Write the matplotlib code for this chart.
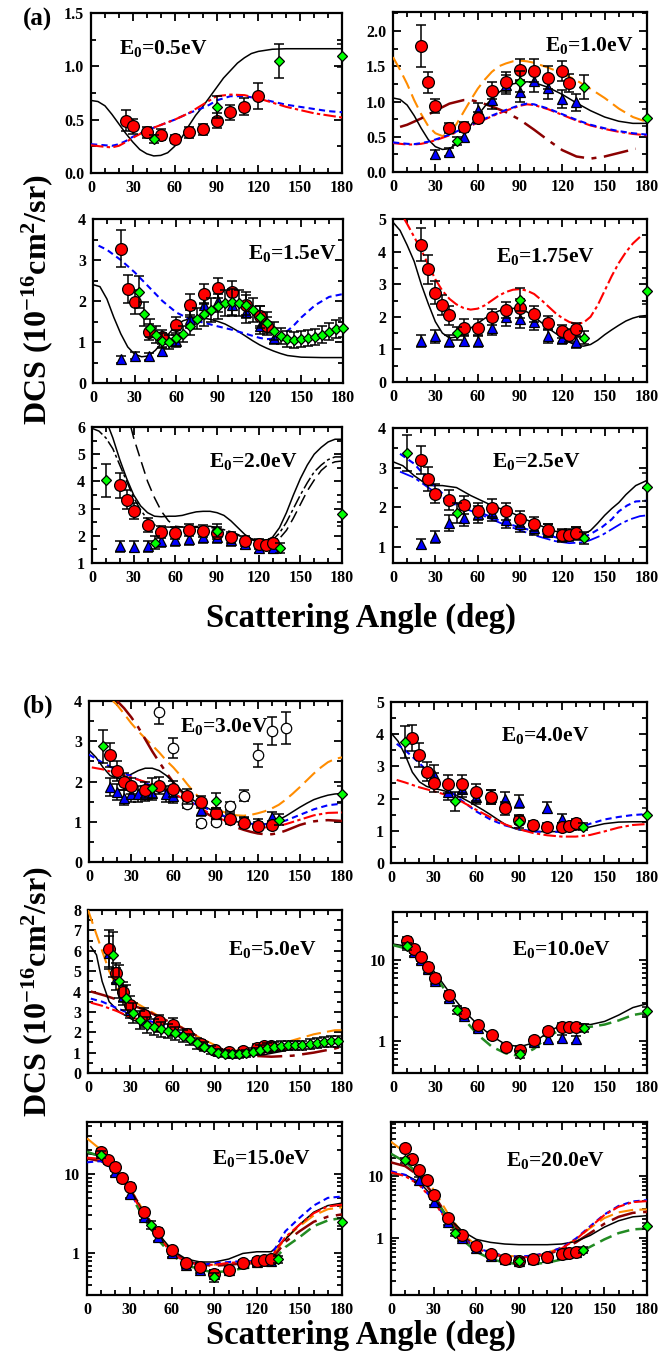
import numpy as np
import matplotlib
matplotlib.use("Agg")
import matplotlib.pyplot as plt
from matplotlib.ticker import MultipleLocator, LogLocator, NullFormatter, FixedLocator, FormatStrFormatter

plt.rcParams["font.family"] = ["Liberation Serif", "DejaVu Serif"]
plt.rcParams["font.weight"] = "bold"
plt.rcParams["mathtext.fontset"] = "custom"
plt.rcParams["mathtext.rm"] = "Liberation Serif:bold"
plt.rcParams["mathtext.it"] = "Liberation Serif:bold"
plt.rcParams["mathtext.bf"] = "Liberation Serif:bold"

W, H = 661, 1357

# ---------------------------------------------------------------- E0 = 0.5 eV
E05_RED_ANG = [25, 30, 40, 50, 60, 70, 80, 90, 100, 110, 120]
E05_RED_DCS = [0.49, 0.44, 0.38, 0.36, 0.32, 0.38, 0.41, 0.49, 0.57, 0.62, 0.72]
E05_RED_ERR = [0.10, 0.07, 0.05, 0.05, 0.04, 0.05, 0.05, 0.07, 0.07, 0.08, 0.12]
E05_GRN_ANG = [45, 90, 135, 180]
E05_GRN_DCS = [0.32, 0.62, 1.05, 1.10]
E05_GRN_ERR = [0.04, 0.10, 0.16, 0.11]
E05_BLK_ANG = [0, 5, 10, 15, 20, 25, 30, 35, 40, 45, 50, 55, 60, 65, 70, 75, 80, 85, 90, 95, 100, 105, 110, 115, 120, 130, 140, 180]
E05_BLK_DCS = [0.68, 0.67, 0.63, 0.55, 0.46, 0.37, 0.29, 0.22, 0.18, 0.16, 0.165, 0.19, 0.25, 0.33, 0.44, 0.54, 0.62, 0.71, 0.80, 0.89, 0.96, 1.03, 1.08, 1.12, 1.14, 1.16, 1.165, 1.165]
E05_BLU_ANG = [0, 10, 15, 20, 25, 30, 35, 40, 50, 60, 70, 80, 85, 90, 100, 110, 120, 130, 140, 150, 160, 170, 180]
E05_BLU_DCS = [0.27, 0.26, 0.255, 0.27, 0.30, 0.34, 0.37, 0.40, 0.45, 0.50, 0.56, 0.61, 0.64, 0.68, 0.72, 0.72, 0.70, 0.67, 0.64, 0.62, 0.60, 0.58, 0.57]
E05_RDD_ANG = [0, 10, 15, 20, 25, 30, 40, 50, 60, 70, 80, 85, 90, 100, 110, 120, 130, 140, 150, 160, 170, 180]
E05_RDD_DCS = [0.26, 0.245, 0.24, 0.255, 0.29, 0.33, 0.40, 0.45, 0.50, 0.56, 0.64, 0.68, 0.72, 0.735, 0.73, 0.70, 0.66, 0.62, 0.59, 0.56, 0.54, 0.52]

# ---------------------------------------------------------------- E0 = 1.0 eV
E10_RED_ANG = [20, 25, 30, 40, 50, 60, 70, 80, 90, 100, 110, 120, 125]
E10_RED_DCS = [1.79, 1.27, 0.94, 0.63, 0.64, 0.77, 1.15, 1.28, 1.45, 1.44, 1.34, 1.43, 1.26]
E10_RED_ERR = [0.30, 0.15, 0.10, 0.07, 0.07, 0.08, 0.12, 0.14, 0.15, 0.16, 0.16, 0.14, 0.13]
E10_BLU_ANG = [30, 40, 50, 60, 70, 80, 90, 100, 110, 120, 130]
E10_BLU_DCS = [0.25, 0.28, 0.50, 0.88, 1.02, 1.24, 1.14, 1.29, 1.19, 1.04, 0.99]
E10_BLU_ERR = [0.06, 0.06, 0.07, 0.10, 0.12, 0.14, 0.15, 0.15, 0.15, 0.13, 0.12]
E10_GRN_ANG = [45, 90, 135, 180]
E10_GRN_DCS = [0.44, 1.28, 1.20, 0.77]
E10_GRN_ERR = [0.05, 0.15, 0.17, 0.12]
E10_BLK_ANG = [0, 5, 10, 15, 20, 25, 30, 35, 40, 45, 50, 55, 60, 65, 70, 75, 80, 85, 90, 95, 100, 110, 120, 130, 140, 150, 160, 170, 180]
E10_BLK_DCS = [1.05, 1.03, 0.95, 0.80, 0.62, 0.46, 0.36, 0.32, 0.33, 0.40, 0.52, 0.66, 0.80, 0.93, 1.04, 1.13, 1.20, 1.25, 1.27, 1.28, 1.27, 1.20, 1.10, 0.98, 0.87, 0.78, 0.72, 0.69, 0.69]
E10_ORG_ANG = [0, 5, 10, 15, 20, 25, 30, 35, 40, 45, 50, 55, 60, 65, 70, 75, 80, 85, 90, 95, 100, 110, 120, 130, 140, 150, 160, 170, 180]
E10_ORG_DCS = [1.63, 1.45, 1.25, 1.02, 0.82, 0.65, 0.55, 0.51, 0.55, 0.68, 0.85, 1.02, 1.18, 1.31, 1.42, 1.50, 1.54, 1.57, 1.58, 1.57, 1.55, 1.48, 1.40, 1.30, 1.18, 1.05, 0.90, 0.78, 0.71]
E10_BLU_TH_ANG = [0, 10, 15, 20, 25, 30, 40, 50, 60, 70, 80, 90, 95, 100, 110, 120, 130, 140, 150, 160, 170, 180]
E10_BLU_TH_DCS = [0.42, 0.40, 0.395, 0.41, 0.43, 0.46, 0.53, 0.62, 0.71, 0.80, 0.88, 0.95, 0.97, 0.96, 0.90, 0.82, 0.74, 0.67, 0.62, 0.58, 0.55, 0.53]
E10_RDD_ANG = E10_BLU_TH_ANG
E10_RDD_DCS = [0.41, 0.39, 0.39, 0.40, 0.42, 0.45, 0.52, 0.61, 0.70, 0.79, 0.87, 0.94, 0.96, 0.95, 0.89, 0.81, 0.73, 0.66, 0.61, 0.57, 0.54, 0.52]
E10_MRN_ANG = [5, 10, 20, 30, 40, 50, 55, 60, 70, 80, 90, 100, 110, 120, 130, 140, 150, 160, 172]
E10_MRN_DCS = [0.64, 0.67, 0.76, 0.87, 0.97, 1.02, 1.02, 1.00, 0.93, 0.85, 0.74, 0.60, 0.45, 0.31, 0.22, 0.19, 0.22, 0.27, 0.33]

# ---------------------------------------------------------------- E0 = 1.5 eV
E15_RED_ANG = [20, 25, 30, 40, 50, 60, 70, 80, 90, 100, 110, 120, 125]
E15_RED_DCS = [3.28, 2.29, 1.98, 1.25, 1.12, 1.42, 1.91, 2.17, 2.32, 2.22, 1.90, 1.64, 1.40]
E15_RED_ERR = [0.45, 0.35, 0.30, 0.20, 0.18, 0.20, 0.25, 0.25, 0.25, 0.27, 0.25, 0.25, 0.22]
E15_BLU_ANG = [20, 30, 40, 50, 60, 70, 80, 90, 100, 110, 120, 130]
E15_BLU_DCS = [0.58, 0.67, 0.65, 0.77, 1.02, 1.55, 1.90, 2.01, 1.90, 1.72, 1.39, 1.10]
E15_BLU_ERR = [0.08, 0.09, 0.09, 0.11, 0.15, 0.22, 0.27, 0.28, 0.27, 0.25, 0.20, 0.16]
E15_GRN_ANG = [33, 37, 41, 45, 50, 55, 60, 65, 70, 75, 80, 85, 90, 95, 100, 105, 110, 115, 120, 125, 130, 135, 140, 145, 150, 155, 160, 165, 170, 175, 180]
E15_GRN_DCS = [2.22, 1.68, 1.33, 1.18, 1.03, 1.00, 1.10, 1.20, 1.39, 1.57, 1.68, 1.78, 1.87, 1.96, 1.98, 1.96, 1.90, 1.78, 1.62, 1.47, 1.26, 1.15, 1.07, 1.05, 1.07, 1.10, 1.12, 1.18, 1.25, 1.31, 1.35]
E15_GRN_ERR = [0.40, 0.30, 0.22, 0.20, 0.18, 0.17, 0.19, 0.20, 0.23, 0.26, 0.28, 0.29, 0.30, 0.32, 0.32, 0.32, 0.31, 0.29, 0.27, 0.25, 0.22, 0.20, 0.19, 0.19, 0.19, 0.19, 0.20, 0.21, 0.21, 0.22, 0.23]
E15_BLK_ANG = [0, 5, 10, 15, 20, 25, 30, 35, 40, 45, 50, 55, 60, 65, 70, 75, 80, 85, 90, 95, 100, 105, 110, 115, 120, 125, 130, 135, 140, 150, 165, 180]
E15_BLK_DCS = [2.40, 2.35, 2.05, 1.60, 1.20, 0.88, 0.70, 0.64, 0.66, 0.80, 1.00, 1.22, 1.42, 1.52, 1.57, 1.59, 1.58, 1.55, 1.50, 1.44, 1.35, 1.25, 1.14, 1.03, 0.93, 0.85, 0.78, 0.72, 0.67, 0.63, 0.62, 0.62]
E15_BLU_TH_ANG = [4, 10, 20, 30, 40, 50, 60, 70, 80, 90, 100, 110, 120, 125, 130, 135, 140, 145, 150, 160, 170, 180]
E15_BLU_TH_DCS = [3.35, 3.25, 3.00, 2.70, 2.35, 2.00, 1.72, 1.55, 1.47, 1.38, 1.30, 1.20, 1.10, 1.07, 1.08, 1.15, 1.27, 1.42, 1.60, 1.90, 2.10, 2.17]

# ---------------------------------------------------------------- E0 = 1.75 eV
E175_RED_ANG = [20, 25, 30, 35, 40, 50, 60, 70, 80, 90, 100, 110, 120, 125, 130]
E175_RED_DCS = [4.21, 3.46, 2.74, 2.36, 2.04, 1.67, 1.67, 2.00, 2.21, 2.26, 2.09, 1.82, 1.56, 1.44, 1.62]
E175_RED_ERR = [0.50, 0.45, 0.35, 0.30, 0.30, 0.25, 0.25, 0.25, 0.25, 0.30, 0.25, 0.20, 0.20, 0.20, 0.20]
E175_BLU_ANG = [20, 30, 40, 50, 60, 70, 80, 90, 100, 110, 120, 130]
E175_BLU_DCS = [1.25, 1.40, 1.25, 1.27, 1.25, 1.66, 1.99, 1.93, 1.83, 1.40, 1.35, 1.22]
E175_BLU_ERR = [0.18, 0.20, 0.18, 0.18, 0.18, 0.22, 0.27, 0.27, 0.25, 0.20, 0.19, 0.17]
E175_GRN_ANG = [45, 90, 135, 180]
E175_GRN_DCS = [1.49, 2.52, 1.36, 2.80]
E175_GRN_ERR = [0.20, 0.35, 0.20, 0.40]
E175_BLK_ANG = [0, 5, 10, 15, 20, 25, 30, 35, 40, 45, 50, 55, 60, 65, 70, 75, 80, 85, 90, 95, 100, 105, 110, 115, 120, 125, 130, 135, 140, 145, 150, 155, 160, 165, 170, 175, 180]
E175_BLK_DCS = [4.90, 4.65, 4.20, 3.70, 3.00, 2.40, 1.85, 1.50, 1.35, 1.38, 1.50, 1.65, 1.80, 1.95, 2.08, 2.18, 2.24, 2.26, 2.24, 2.15, 2.00, 1.83, 1.65, 1.50, 1.36, 1.22, 1.12, 1.10, 1.15, 1.28, 1.45, 1.60, 1.74, 1.87, 1.96, 2.02, 2.04]
E175_RDD_ANG = [8, 10, 15, 20, 25, 30, 35, 40, 45, 50, 55, 60, 65, 70, 75, 80, 85, 90, 95, 100, 105, 110, 115, 120, 125, 130, 135, 140, 145, 150, 155, 160, 165, 170, 175]
E175_RDD_DCS = [5.00, 4.85, 4.45, 4.05, 3.60, 3.15, 2.80, 2.55, 2.38, 2.27, 2.22, 2.25, 2.35, 2.50, 2.65, 2.76, 2.83, 2.85, 2.80, 2.70, 2.52, 2.32, 2.12, 1.96, 1.84, 1.78, 1.82, 2.00, 2.35, 2.80, 3.25, 3.65, 3.98, 4.25, 4.45]

# ---------------------------------------------------------------- E0 = 2.0 eV
E20_RED_ANG = [20, 25, 30, 40, 50, 60, 70, 80, 90, 100, 110, 120, 125, 130]
E20_RED_DCS = [3.85, 3.32, 2.92, 2.40, 2.14, 2.10, 2.23, 2.19, 2.10, 1.94, 1.80, 1.70, 1.68, 1.72]
E20_RED_ERR = [0.45, 0.35, 0.30, 0.25, 0.22, 0.22, 0.22, 0.22, 0.22, 0.20, 0.18, 0.17, 0.17, 0.17]
E20_BLU_ANG = [20, 30, 40, 50, 60, 70, 80, 90, 100, 110, 120, 130]
E20_BLU_DCS = [1.62, 1.60, 1.62, 1.80, 1.85, 1.90, 1.95, 1.95, 1.85, 1.70, 1.55, 1.55]
E20_BLU_ERR = [0.20, 0.20, 0.20, 0.22, 0.22, 0.23, 0.23, 0.23, 0.22, 0.20, 0.18, 0.18]
E20_GRN_ANG = [10, 45, 90, 135, 180]
E20_GRN_DCS = [4.04, 1.75, 2.19, 1.55, 2.80]
E20_GRN_ERR = [0.60, 0.25, 0.25, 0.20, 0.45]
E20_BLK_ANG = [12, 15, 20, 25, 30, 35, 40, 45, 50, 55, 60, 65, 70, 75, 80, 85, 90, 95, 100, 105, 110, 115, 120, 125, 130, 135, 140, 145, 150, 155, 160, 165, 170, 175, 180]
E20_BLK_DCS = [6.00, 5.60, 4.80, 4.10, 3.50, 3.10, 2.85, 2.72, 2.70, 2.72, 2.72, 2.75, 2.82, 2.88, 2.90, 2.90, 2.85, 2.75, 2.55, 2.30, 2.05, 1.88, 1.82, 1.82, 1.95, 2.30, 2.85, 3.50, 4.10, 4.60, 5.00, 5.25, 5.45, 5.55, 5.55]
E20_BDD_ANG = [0, 5, 10, 15, 20, 25, 30, 35, 40, 45, 50, 55, 60, 70, 80, 85, 90, 100, 110, 120, 125, 130, 135, 140, 145, 150, 155, 160, 165, 170, 175, 180]
E20_BDD_DCS = [5.95, 5.85, 5.60, 5.20, 4.60, 4.00, 3.40, 2.95, 2.60, 2.40, 2.33, 2.32, 2.32, 2.33, 2.35, 2.35, 2.30, 2.15, 1.95, 1.82, 1.80, 1.85, 2.10, 2.50, 3.00, 3.50, 3.95, 4.35, 4.60, 4.80, 4.90, 4.90]
E20_BLD_ANG = [28, 30, 35, 40, 45, 50, 55, 60, 70, 80, 90, 100, 110, 120, 125, 130, 135, 140, 145, 150, 155, 160, 165, 170, 175, 180]
E20_BLD_DCS = [6.00, 5.60, 4.80, 4.00, 3.40, 2.90, 2.55, 2.35, 2.30, 2.32, 2.28, 2.12, 1.92, 1.78, 1.74, 1.75, 1.90, 2.20, 2.65, 3.15, 3.65, 4.05, 4.40, 4.62, 4.72, 4.75]

# ---------------------------------------------------------------- E0 = 2.5 eV
E25_RED_ANG = [20, 25, 30, 40, 50, 60, 70, 80, 90, 100, 110, 120, 125, 130]
E25_RED_DCS = [3.19, 2.72, 2.35, 2.19, 2.06, 1.90, 1.98, 1.90, 1.70, 1.58, 1.42, 1.30, 1.30, 1.35]
E25_RED_ERR = [0.35, 0.30, 0.25, 0.25, 0.23, 0.22, 0.22, 0.22, 0.20, 0.18, 0.17, 0.15, 0.15, 0.15]
E25_BLU_ANG = [20, 30, 40, 50, 60, 70, 80, 90, 100, 110, 120, 130]
E25_BLU_DCS = [1.08, 1.26, 1.60, 1.74, 1.83, 1.87, 1.68, 1.57, 1.48, 1.42, 1.28, 1.35]
E25_BLU_ERR = [0.13, 0.15, 0.20, 0.20, 0.21, 0.22, 0.20, 0.19, 0.18, 0.17, 0.16, 0.16]
E25_GRN_ANG = [10, 45, 135, 180]
E25_GRN_DCS = [3.37, 1.87, 1.22, 2.51]
E25_GRN_ERR = [0.45, 0.25, 0.15, 0.35]
E25_BLK_ANG = [0, 7, 15, 25, 35, 45, 55, 70, 85, 100, 115, 125, 135, 140, 145, 150, 155, 160, 165, 172, 180]
E25_BLK_DCS = [3.15, 3.05, 2.80, 2.55, 2.55, 2.50, 2.30, 2.05, 1.85, 1.60, 1.40, 1.32, 1.32, 1.42, 1.60, 1.80, 1.97, 2.12, 2.32, 2.55, 2.68]
E25_BLU_TH_ANG = [5, 15, 25, 35, 45, 60, 80, 100, 115, 125, 135, 140, 148, 155, 160, 166, 172, 180]
E25_BLU_TH_DCS = [3.35, 3.10, 2.70, 2.35, 2.10, 1.90, 1.60, 1.40, 1.25, 1.20, 1.25, 1.33, 1.50, 1.70, 1.90, 2.05, 2.15, 2.17]
E25_BLD_ANG = [5, 15, 25, 35, 45, 60, 80, 100, 115, 125, 135, 140, 148, 155, 162, 168, 175, 180]
E25_BLD_DCS = [2.90, 2.75, 2.50, 2.25, 2.05, 1.85, 1.55, 1.30, 1.15, 1.10, 1.12, 1.18, 1.30, 1.45, 1.60, 1.70, 1.78, 1.80]

# ---------------------------------------------------------------- E0 = 3.0 eV
E30_RED_ANG = [15, 20, 25, 30, 40, 50, 60, 70, 80, 90, 100, 110, 120, 130]
E30_RED_DCS = [2.65, 2.27, 2.00, 1.88, 1.79, 1.90, 1.82, 1.63, 1.49, 1.21, 1.07, 0.98, 0.89, 0.92]
E30_RED_ERR = [0.30, 0.25, 0.22, 0.20, 0.20, 0.20, 0.20, 0.18, 0.16, 0.13, 0.12, 0.11, 0.10, 0.10]
E30_BLU_ANG = [15, 20, 25, 30, 35, 40, 45, 55, 60, 80, 90, 100, 110, 120, 130]
E30_BLU_DCS = [1.86, 1.73, 1.60, 1.69, 1.69, 1.70, 1.72, 1.69, 1.65, 1.29, 1.20, 1.11, 1.01, 0.97, 1.11]
E30_BLU_ERR = [0.22, 0.20, 0.18, 0.19, 0.19, 0.19, 0.19, 0.19, 0.18, 0.14, 0.13, 0.12, 0.11, 0.10, 0.12]
E30_GRN_ANG = [10, 45, 90, 135, 180]
E30_GRN_DCS = [2.87, 1.84, 1.51, 1.05, 1.68]
E30_GRN_ERR = [0.40, 0.25, 0.20, 0.14, 0.22]
E30_OPN_ANG = [50, 60, 70, 80, 90, 100, 110, 120, 130, 140]
E30_OPN_DCS = [3.72, 2.84, 1.43, 0.96, 1.00, 1.38, 1.65, 2.65, 3.25, 3.33]
E30_OPN_ERR = [0.30, 0.25, 0.10, 0.08, 0.08, 0.10, 0.14, 0.28, 0.35, 0.40]
E30_BLK_ANG = [0, 5, 10, 15, 20, 25, 30, 35, 40, 45, 50, 55, 60, 65, 70, 75, 80, 85, 90, 95, 100, 105, 110, 115, 120, 125, 130, 135, 140, 145, 150, 155, 160, 165, 170, 175, 180]
E30_BLK_DCS = [2.78, 2.60, 2.35, 2.15, 2.07, 2.10, 2.18, 2.27, 2.33, 2.33, 2.27, 2.15, 1.98, 1.80, 1.64, 1.52, 1.42, 1.33, 1.24, 1.15, 1.06, 1.00, 0.97, 0.95, 0.94, 0.94, 0.97, 1.05, 1.14, 1.25, 1.36, 1.46, 1.55, 1.61, 1.66, 1.69, 1.70]
E30_BLU_TH_ANG = [0, 10, 20, 30, 40, 50, 60, 70, 80, 90, 100, 110, 120, 130, 140, 150, 160, 170, 180]
E30_BLU_TH_DCS = [2.67, 2.46, 2.28, 2.13, 1.96, 1.82, 1.68, 1.52, 1.38, 1.24, 1.08, 0.98, 0.93, 0.94, 1.03, 1.17, 1.31, 1.41, 1.45]
E30_RDD_ANG = [2, 10, 20, 30, 40, 50, 60, 70, 80, 90, 100, 110, 120, 130, 140, 150, 160, 170, 180]
E30_RDD_DCS = [2.35, 2.30, 2.20, 2.10, 1.99, 1.87, 1.70, 1.52, 1.32, 1.13, 0.98, 0.90, 0.86, 0.86, 0.94, 1.05, 1.16, 1.22, 1.23]
E30_ORG_ANG = [17, 20, 25, 30, 35, 40, 45, 50, 55, 60, 65, 70, 75, 80, 85, 90, 95, 100, 105, 110, 115, 120, 125, 130, 135, 140, 145, 150, 155, 160, 165, 170, 175, 180]
E30_ORG_DCS = [4.00, 3.90, 3.68, 3.45, 3.25, 3.07, 2.90, 2.72, 2.52, 2.35, 2.15, 1.93, 1.72, 1.55, 1.42, 1.32, 1.25, 1.20, 1.16, 1.15, 1.17, 1.21, 1.26, 1.33, 1.42, 1.55, 1.70, 1.86, 2.03, 2.20, 2.35, 2.48, 2.56, 2.60]
E30_MRN_ANG = [20, 25, 30, 35, 40, 45, 50, 55, 60, 65, 70, 75, 80, 85, 90, 95, 100, 105, 110, 115, 120, 125, 130, 135, 140, 145, 150, 155, 160, 165, 170, 175, 180]
E30_MRN_DCS = [4.00, 3.82, 3.60, 3.35, 3.05, 2.75, 2.48, 2.22, 1.98, 1.78, 1.58, 1.42, 1.30, 1.18, 1.08, 1.00, 0.93, 0.86, 0.80, 0.75, 0.71, 0.69, 0.69, 0.72, 0.78, 0.85, 0.92, 0.97, 1.01, 1.03, 1.04, 1.03, 1.02]

# ---------------------------------------------------------------- E0 = 4.0 eV
E40_RED_ANG = [15, 20, 25, 30, 40, 50, 60, 70, 80, 90, 100, 110, 120, 125, 130]
E40_RED_DCS = [3.89, 3.36, 2.84, 2.50, 2.46, 2.45, 2.19, 2.04, 1.70, 1.35, 1.18, 1.13, 1.13, 1.16, 1.23]
E40_RED_ERR = [0.40, 0.38, 0.30, 0.28, 0.28, 0.28, 0.25, 0.22, 0.20, 0.15, 0.13, 0.12, 0.12, 0.12, 0.13]
E40_BLU_ANG = [30, 40, 50, 60, 70, 80, 90, 110, 120, 130]
E40_BLU_DCS = [2.74, 2.20, 2.30, 2.04, 2.06, 2.00, 1.90, 1.72, 1.38, 1.20]
E40_BLU_ERR = [0.30, 0.25, 0.25, 0.22, 0.22, 0.20, 0.20, 0.18, 0.15, 0.13]
E40_GRN_ANG = [10, 45, 90, 135, 180]
E40_GRN_DCS = [3.75, 1.91, 1.28, 1.13, 1.49]
E40_GRN_ERR = [0.50, 0.28, 0.18, 0.12, 0.22]
E40_BLK_ANG = [0, 5, 10, 15, 20, 25, 30, 35, 40, 45, 50, 55, 60, 65, 70, 75, 80, 85, 90, 100, 110, 120, 130, 140, 150, 160, 170, 180]
E40_BLK_DCS = [4.04, 3.78, 3.35, 2.82, 2.52, 2.38, 2.31, 2.27, 2.21, 2.12, 2.02, 1.90, 1.77, 1.64, 1.50, 1.35, 1.21, 1.10, 1.03, 0.98, 0.97, 0.98, 1.02, 1.12, 1.22, 1.27, 1.28, 1.28]
E40_BLU_TH_ANG = [4, 10, 20, 30, 40, 50, 60, 70, 80, 90, 100, 110, 120, 130, 140, 150, 160, 170, 180]
E40_BLU_TH_DCS = [3.70, 3.50, 3.10, 2.65, 2.28, 1.93, 1.60, 1.35, 1.17, 1.05, 0.98, 0.96, 0.97, 1.05, 1.22, 1.35, 1.43, 1.49, 1.52]
E40_RDD_ANG = [4, 10, 20, 30, 40, 50, 60, 70, 80, 90, 100, 110, 120, 130, 140, 150, 160, 170, 180]
E40_RDD_DCS = [2.58, 2.50, 2.35, 2.23, 2.10, 1.90, 1.65, 1.42, 1.20, 1.05, 0.93, 0.86, 0.82, 0.82, 0.87, 0.98, 1.10, 1.18, 1.21]

# ---------------------------------------------------------------- E0 = 5.0 eV
E50_RED_ANG = [15, 20, 25, 30, 40, 50, 60, 70, 80, 90, 100, 110, 120, 125, 130]
E50_RED_DCS = [6.11, 4.92, 3.97, 3.36, 2.84, 2.54, 2.38, 1.90, 1.44, 1.11, 1.03, 1.08, 1.25, 1.31, 1.33]
E50_RED_ERR = [0.90, 0.50, 0.50, 0.40, 0.35, 0.30, 0.30, 0.25, 0.20, 0.15, 0.15, 0.15, 0.15, 0.15, 0.15]
E50_BLU_ANG = [15, 20, 25, 30, 40, 50, 60]
E50_BLU_DCS = [5.90, 4.60, 3.80, 3.10, 2.60, 2.30, 2.10]
E50_BLU_ERR = [0.80, 0.55, 0.45, 0.40, 0.35, 0.30, 0.30]
E50_GRN_ANG = [18, 22, 27, 32, 37, 42, 47, 52, 57, 62, 67, 72, 77, 82, 87, 92, 97, 102, 107, 112, 117, 122, 127, 132, 137, 142, 147, 152, 157, 162, 167, 172, 177]
E50_GRN_DCS = [5.80, 4.50, 3.70, 2.95, 2.60, 2.35, 2.25, 2.15, 2.05, 1.95, 1.80, 1.65, 1.45, 1.30, 1.12, 1.00, 0.95, 0.92, 0.93, 0.96, 1.05, 1.15, 1.25, 1.30, 1.33, 1.36, 1.36, 1.35, 1.42, 1.48, 1.52, 1.55, 1.55]
E50_GRN_ERR = [1.10, 0.80, 0.60, 0.50, 0.45, 0.40, 0.38, 0.36, 0.34, 0.32, 0.30, 0.28, 0.25, 0.22, 0.20, 0.18, 0.17, 0.17, 0.17, 0.17, 0.18, 0.20, 0.22, 0.22, 0.23, 0.23, 0.23, 0.23, 0.24, 0.25, 0.25, 0.26, 0.26]
E50_ORG_ANG = [0, 5, 10, 15, 22, 35, 50, 65, 80, 92, 105, 115, 130, 145, 160, 175, 180]
E50_ORG_DCS = [8.00, 7.00, 6.00, 5.00, 4.00, 3.40, 2.80, 2.30, 1.70, 1.30, 1.10, 1.10, 1.30, 1.60, 1.90, 2.10, 2.10]
E50_BLK_ANG = [2, 6, 10, 15, 22, 32, 45, 60, 75, 90, 100, 110, 125, 140, 155, 170, 180]
E50_BLK_DCS = [6.20, 5.80, 4.50, 3.50, 3.00, 2.60, 2.30, 2.00, 1.60, 1.20, 0.95, 0.85, 0.90, 1.10, 1.35, 1.50, 1.55]
E50_MRN_ANG = [2, 12, 25, 40, 55, 70, 85, 100, 115, 130, 145, 160, 175, 180]
E50_MRN_DCS = [4.00, 3.80, 3.50, 3.10, 2.60, 2.10, 1.50, 1.00, 0.85, 0.80, 0.85, 1.00, 1.20, 1.30]
E50_BLU_TH_ANG = [2, 10, 20, 30, 42, 57, 72, 87, 100, 115, 130, 148, 165, 180]
E50_BLU_TH_DCS = [3.65, 3.50, 3.20, 2.90, 2.60, 2.20, 1.80, 1.30, 1.00, 0.95, 1.05, 1.30, 1.50, 1.60]
E50_RDD_ANG = [2, 10, 20, 30, 42, 57, 72, 87, 100, 115, 130, 148, 165, 180]
E50_RDD_DCS = [3.45, 3.30, 3.05, 2.75, 2.50, 2.10, 1.70, 1.25, 1.00, 0.95, 1.05, 1.30, 1.45, 1.55]

# ---------------------------------------------------------------- E0 = 10.0 eV
E100_RED_ANG = [10, 15, 20, 25, 30, 40, 50, 60, 70, 80, 90, 100, 110, 120, 125, 130]
E100_RED_DCS = [17.7, 13.9, 11.0, 8.4, 6.1, 3.77, 2.24, 1.57, 1.18, 0.84, 0.78, 1.03, 1.33, 1.50, 1.50, 1.50]
E100_RED_ERR = [1.8, 1.4, 1.1, 0.8, 0.6, 0.38, 0.22, 0.16, 0.12, 0.08, 0.08, 0.10, 0.13, 0.15, 0.15, 0.15]
E100_BLU_ANG = [10, 15, 20, 25, 30, 40, 50, 60, 100, 110, 120, 130]
E100_BLU_DCS = [16.5, 12.8, 10.0, 7.8, 5.6, 3.4, 2.05, 1.45, 0.97, 1.05, 1.08, 1.05]
E100_BLU_ERR = [1.6, 1.3, 1.0, 0.8, 0.56, 0.34, 0.2, 0.15, 0.1, 0.1, 0.1, 0.1]
E100_GRN_ANG = [10, 45, 90, 135, 180]
E100_GRN_DCS = [15.0, 2.44, 0.69, 1.46, 2.38]
E100_GRN_ERR = [1.5, 0.25, 0.07, 0.15, 0.25]
E100_BLK_ANG = [0, 10, 20, 30, 40, 50, 60, 70, 80, 90, 100, 110, 120, 130, 140, 150, 160, 170, 180]
E100_BLK_DCS = [16.0, 15.0, 11.0, 7.0, 4.0, 2.4, 1.6, 1.15, 0.90, 0.85, 0.95, 1.30, 1.60, 1.65, 1.60, 1.75, 2.10, 2.60, 2.90]
E100_GTH_ANG = [0, 10, 20, 30, 40, 50, 60, 70, 80, 90, 100, 110, 120, 130, 140, 150, 160, 170, 180]
E100_GTH_DCS = [15.5, 14.0, 10.0, 6.5, 3.5, 1.9, 1.2, 0.85, 0.70, 0.65, 0.80, 1.15, 1.40, 1.45, 1.50, 1.60, 1.80, 2.10, 2.25]

# ---------------------------------------------------------------- E0 = 15.0 eV
E150_RED_ANG = [10, 15, 20, 25, 30, 40, 50, 60, 70, 80, 90, 100, 110, 120, 125, 130]
E150_RED_DCS = [18.7, 15.0, 12.1, 8.8, 6.9, 3.3, 1.88, 1.10, 0.75, 0.68, 0.55, 0.62, 0.75, 0.80, 0.82, 0.85]
E150_RED_ERR = [1.9, 1.5, 1.2, 0.9, 0.7, 0.33, 0.19, 0.11, 0.08, 0.07, 0.06, 0.06, 0.08, 0.08, 0.08, 0.09]
E150_BLU_ANG = [20, 30, 40, 50, 60, 70, 80, 90, 100, 110, 120, 130]
E150_BLU_DCS = [10.5, 5.6, 2.9, 1.6, 1.0, 0.72, 0.62, 0.55, 0.62, 0.75, 0.78, 0.80]
E150_BLU_ERR = [1.0, 0.6, 0.3, 0.16, 0.1, 0.07, 0.06, 0.06, 0.06, 0.08, 0.08, 0.08]
E150_GRN_ANG = [10, 45, 90, 135, 180]
E150_GRN_DCS = [17.5, 2.3, 0.50, 0.85, 2.50]
E150_GRN_ERR = [1.8, 0.25, 0.06, 0.09, 0.3]
E150_ANG = [0, 10, 20, 30, 40, 50, 60, 70, 80, 90, 100, 110, 120, 130, 140, 150, 160, 170, 180]
E150_BLK_DCS = [18.0, 17.0, 11.5, 6.5, 3.3, 1.8, 1.1, 0.85, 0.78, 0.78, 0.85, 1.0, 1.05, 1.05, 1.5, 2.3, 3.3, 4.0, 4.3]
E150_BLU_TH_DCS = [14.0, 14.5, 11.0, 6.0, 3.0, 1.6, 1.0, 0.78, 0.72, 0.75, 0.78, 0.80, 0.80, 0.95, 1.9, 2.8, 4.0, 5.0, 5.2]
E150_RDD_DCS = [16.0, 15.5, 11.2, 6.2, 3.1, 1.65, 1.0, 0.78, 0.72, 0.72, 0.76, 0.78, 0.78, 0.90, 1.6, 2.3, 3.2, 3.9, 4.1]
E150_ORG_DCS = [28.0, 20.0, 12.5, 6.8, 3.4, 1.75, 1.05, 0.80, 0.72, 0.72, 0.75, 0.78, 0.78, 0.88, 1.55, 2.2, 3.0, 3.6, 3.8]
E150_MRN_DCS = [15.6, 14.5, 11.5, 6.5, 3.4, 1.8, 1.05, 0.8, 0.72, 0.70, 0.72, 0.75, 0.75, 0.82, 1.4, 1.9, 2.5, 2.9, 3.1]
E150_GTH_DCS = [19.0, 16.5, 11.0, 5.8, 2.8, 1.5, 0.95, 0.72, 0.62, 0.58, 0.60, 0.65, 0.68, 0.75, 1.2, 1.6, 2.2, 2.6, 2.8]

# ---------------------------------------------------------------- E0 = 20.0 eV
E200_RED_ANG = [10, 15, 20, 25, 30, 40, 50, 60, 70, 80, 90, 100, 110, 120, 125, 130]
E200_RED_DCS = [28.0, 19.0, 12.5, 8.6, 5.0, 2.1, 1.1, 0.75, 0.55, 0.45, 0.42, 0.45, 0.50, 0.55, 0.58, 0.60]
E200_RED_ERR = [2.8, 1.9, 1.3, 0.9, 0.5, 0.21, 0.11, 0.08, 0.06, 0.05, 0.04, 0.05, 0.05, 0.06, 0.06, 0.06]
E200_BLU_ANG = [20, 30, 40, 50, 60, 70, 80, 90, 100, 110, 120, 130]
E200_BLU_DCS = [8.8, 3.8, 1.8, 1.0, 0.70, 0.52, 0.45, 0.42, 0.45, 0.50, 0.55, 0.60]
E200_BLU_ERR = [0.9, 0.4, 0.18, 0.1, 0.07, 0.05, 0.05, 0.04, 0.05, 0.05, 0.06, 0.06]
E200_GRN_ANG = [10, 45, 90, 135, 180]
E200_GRN_DCS = [18.0, 1.2, 0.42, 0.65, 1.58]
E200_GRN_ERR = [1.8, 0.13, 0.05, 0.07, 0.2]
E200_ANG = [0, 10, 20, 30, 40, 50, 60, 70, 80, 90, 100, 110, 120, 130, 140, 150, 160, 170, 180]
E200_BLK_DCS = [11.0, 10.5, 8.0, 4.5, 2.2, 1.3, 0.95, 0.85, 0.80, 0.78, 0.78, 0.78, 0.80, 0.88, 1.10, 1.50, 1.90, 2.20, 2.30]
E200_BLU_TH_DCS = [12.0, 10.5, 7.5, 4.0, 1.9, 1.0, 0.70, 0.58, 0.52, 0.50, 0.52, 0.58, 0.70, 0.98, 1.55, 2.40, 3.30, 3.90, 4.10]
E200_RDD_DCS = [11.5, 10.0, 7.2, 3.9, 1.8, 0.95, 0.68, 0.56, 0.50, 0.48, 0.50, 0.56, 0.68, 0.95, 1.50, 2.35, 3.20, 3.80, 3.95]
E200_ORG_DCS = [36.0, 24.0, 13.0, 6.0, 2.5, 1.2, 0.75, 0.58, 0.52, 0.50, 0.52, 0.58, 0.70, 0.95, 1.45, 2.10, 2.60, 2.85, 2.90]
E200_MRN_DCS = [16.7, 14.5, 10.0, 5.0, 2.2, 1.1, 0.72, 0.56, 0.50, 0.48, 0.50, 0.55, 0.65, 0.85, 1.20, 1.70, 2.20, 2.55, 2.65]
E200_GTH_DCS = [23.0, 17.0, 10.5, 5.0, 2.0, 0.95, 0.60, 0.46, 0.40, 0.38, 0.38, 0.40, 0.45, 0.55, 0.72, 0.95, 1.20, 1.38, 1.42]

# ---------------------------------------------------------------- drawing
LINE_STYLES = {
    "black": dict(color="black", lw=1.1, ls="-"),
    "blue": dict(color="#0000ff", lw=1.5, dashes=(3, 2)),
    "red": dict(color="#ff0000", lw=1.5, dashes=(6, 1.6, 1.6, 1.6)),
    "orange": dict(color="#ff8c00", lw=1.5, dashes=(7, 3)),
    "maroon": dict(color="#8b0000", lw=1.8, dashes=(10, 3, 2, 3)),
    "green": dict(color="#228b22", lw=1.8, dashes=(5, 2.5)),
    "bluedd": dict(color="#0000ff", lw=1.3, dashes=(8, 2, 2, 2)),
    "blackdd": dict(color="black", lw=1.1, dashes=(8, 2, 2, 2)),
    "blackld": dict(color="black", lw=1.1, dashes=(8, 4)),
}
MARKERS = {
    "red": dict(marker="o", mfc="#ff0000", ms=8.5, zorder=6),
    "blue": dict(marker="^", mfc="#0000ff", ms=7.5, zorder=5),
    "green": dict(marker="D", mfc="#00ff00", ms=5, zorder=7),
    "open": dict(marker="o", mfc="white", ms=7.5, zorder=5),
}


def px_axes(fig, l, t, r, b):
    return fig.add_axes([l / W, 1 - b / H, (r - l) / W, (b - t) / H])


def draw_points(ax, ang, val, err, kind):
    ax.errorbar(ang, val, yerr=err, fmt="none", ecolor="black", elinewidth=1.1,
                capsize=3.5, capthick=1.1, zorder=MARKERS[kind]["zorder"] - 0.5)
    ax.plot(ang, val, ls="none", mec="black", mew=0.9, clip_on=False, **MARKERS[kind])


def draw_curve(ax, ang, val, kind):
    ax.plot(ang, val, zorder=3, **LINE_STYLES[kind])


def style_axes(ax, ylim, ymajor=None, yminor=None, log=False, fmt="%d"):
    ax.set_xlim(0, 180)
    ax.xaxis.set_major_locator(MultipleLocator(30))
    ax.xaxis.set_minor_locator(MultipleLocator(10))
    ax.set_ylim(*ylim)
    if log:
        ax.set_yscale("log")
        ax.set_ylim(*ylim)
        ax.yaxis.set_major_locator(FixedLocator([1, 10]))
        ax.yaxis.set_major_formatter(FormatStrFormatter("%d"))
        ax.yaxis.set_minor_locator(LogLocator(base=10, subs=np.arange(2, 10)))
        ax.yaxis.set_minor_formatter(NullFormatter())
    else:
        ax.yaxis.set_major_locator(MultipleLocator(ymajor))
        ax.yaxis.set_minor_locator(MultipleLocator(yminor))
        ax.yaxis.set_major_formatter(FormatStrFormatter(fmt))
    ax.tick_params(which="both", direction="in", top=True, right=True, width=1.3,
                   labelsize=11.5, pad=5)
    ax.tick_params(which="major", length=6)
    ax.tick_params(which="minor", length=3.5)
    for s in ax.spines.values():
        s.set_linewidth(1.6)
    for lab in ax.get_xticklabels() + ax.get_yticklabels():
        lab.set_fontweight("bold")


def label(ax, text, x, y):
    ax.text(x, y, text, transform=ax.transAxes, fontsize=15.5, fontweight="bold",
            ha="left", va="center", zorder=10)


fig = plt.figure(figsize=(W / 100, H / 100), dpi=100)

# 0.5 eV
ax = px_axes(fig, 91, 13, 342, 173)
draw_curve(ax, E05_BLK_ANG, E05_BLK_DCS, "black")
draw_curve(ax, E05_BLU_ANG, E05_BLU_DCS, "blue")
draw_curve(ax, E05_RDD_ANG, E05_RDD_DCS, "red")
draw_points(ax, E05_RED_ANG, E05_RED_DCS, E05_RED_ERR, "red")
draw_points(ax, E05_GRN_ANG, E05_GRN_DCS, E05_GRN_ERR, "green")
style_axes(ax, (0, 1.5), 0.5, 0.25, fmt="%.1f")
label(ax, r"E$_0$=0.5eV", 0.11, 0.78)

# 1.0 eV
ax = px_axes(fig, 393, 12, 647, 172)
draw_curve(ax, E10_ORG_ANG, E10_ORG_DCS, "orange")
draw_curve(ax, E10_MRN_ANG, E10_MRN_DCS, "maroon")
draw_curve(ax, E10_BLK_ANG, E10_BLK_DCS, "black")
draw_curve(ax, E10_RDD_ANG, E10_RDD_DCS, "red")
draw_curve(ax, E10_BLU_TH_ANG, E10_BLU_TH_DCS, "blue")
draw_points(ax, E10_BLU_ANG, E10_BLU_DCS, E10_BLU_ERR, "blue")
draw_points(ax, E10_RED_ANG, E10_RED_DCS, E10_RED_ERR, "red")
draw_points(ax, E10_GRN_ANG, E10_GRN_DCS, E10_GRN_ERR, "green")
style_axes(ax, (0, 2.27), 0.5, 0.25, fmt="%.1f")
label(ax, r"E$_0$=1.0eV", 0.60, 0.79)

# 1.5 eV
ax = px_axes(fig, 93, 219, 343, 383)
draw_curve(ax, E15_BLK_ANG, E15_BLK_DCS, "black")
draw_curve(ax, E15_BLU_TH_ANG, E15_BLU_TH_DCS, "blue")
draw_points(ax, E15_BLU_ANG, E15_BLU_DCS, E15_BLU_ERR, "blue")
draw_points(ax, E15_RED_ANG, E15_RED_DCS, E15_RED_ERR, "red")
draw_points(ax, E15_GRN_ANG, E15_GRN_DCS, E15_GRN_ERR, "green")
style_axes(ax, (0, 4), 1, 0.5)
label(ax, r"E$_0$=1.5eV", 0.62, 0.79)

# 1.75 eV
ax = px_axes(fig, 393, 219, 647, 382)
draw_curve(ax, E175_BLK_ANG, E175_BLK_DCS, "black")
draw_curve(ax, E175_RDD_ANG, E175_RDD_DCS, "red")
draw_points(ax, E175_BLU_ANG, E175_BLU_DCS, E175_BLU_ERR, "blue")
draw_points(ax, E175_RED_ANG, E175_RED_DCS, E175_RED_ERR, "red")
draw_points(ax, E175_GRN_ANG, E175_GRN_DCS, E175_GRN_ERR, "green")
style_axes(ax, (0, 5), 1, 0.5)
label(ax, r"E$_0$=1.75eV", 0.405, 0.77)

# 2.0 eV
ax = px_axes(fig, 92, 427, 342, 563)
draw_curve(ax, E20_BLK_ANG, E20_BLK_DCS, "black")
draw_curve(ax, E20_BDD_ANG, E20_BDD_DCS, "blackdd")
draw_curve(ax, E20_BLD_ANG, E20_BLD_DCS, "blackld")
draw_points(ax, E20_BLU_ANG, E20_BLU_DCS, E20_BLU_ERR, "blue")
draw_points(ax, E20_RED_ANG, E20_RED_DCS, E20_RED_ERR, "red")
draw_points(ax, E20_GRN_ANG, E20_GRN_DCS, E20_GRN_ERR, "green")
style_axes(ax, (1, 6), 1, 0.5)
label(ax, r"E$_0$=2.0eV", 0.47, 0.745)

# 2.5 eV
ax = px_axes(fig, 393, 428, 647, 563)
draw_curve(ax, E25_BLK_ANG, E25_BLK_DCS, "black")
draw_curve(ax, E25_BLU_TH_ANG, E25_BLU_TH_DCS, "blue")
draw_curve(ax, E25_BLD_ANG, E25_BLD_DCS, "bluedd")
draw_points(ax, E25_BLU_ANG, E25_BLU_DCS, E25_BLU_ERR, "blue")
draw_points(ax, E25_RED_ANG, E25_RED_DCS, E25_RED_ERR, "red")
draw_points(ax, E25_GRN_ANG, E25_GRN_DCS, E25_GRN_ERR, "green")
style_axes(ax, (0.6, 4), 1, 0.5)
label(ax, r"E$_0$=2.5eV", 0.39, 0.75)

# 3.0 eV
ax = px_axes(fig, 89, 701, 342, 862)
draw_curve(ax, E30_ORG_ANG, E30_ORG_DCS, "orange")
draw_curve(ax, E30_MRN_ANG, E30_MRN_DCS, "maroon")
draw_curve(ax, E30_BLK_ANG, E30_BLK_DCS, "black")
draw_curve(ax, E30_BLU_TH_ANG, E30_BLU_TH_DCS, "blue")
draw_curve(ax, E30_RDD_ANG, E30_RDD_DCS, "red")
draw_points(ax, E30_OPN_ANG, E30_OPN_DCS, E30_OPN_ERR, "open")
draw_points(ax, E30_BLU_ANG, E30_BLU_DCS, E30_BLU_ERR, "blue")
draw_points(ax, E30_RED_ANG, E30_RED_DCS, E30_RED_ERR, "red")
draw_points(ax, E30_GRN_ANG, E30_GRN_DCS, E30_GRN_ERR, "green")
style_axes(ax, (0, 4), 1, 0.5)
label(ax, r"E$_0$=3.0eV", 0.36, 0.84)

# 4.0 eV
ax = px_axes(fig, 391, 702, 647, 863)
draw_curve(ax, E40_BLK_ANG, E40_BLK_DCS, "black")
draw_curve(ax, E40_BLU_TH_ANG, E40_BLU_TH_DCS, "blue")
draw_curve(ax, E40_RDD_ANG, E40_RDD_DCS, "red")
draw_points(ax, E40_BLU_ANG, E40_BLU_DCS, E40_BLU_ERR, "blue")
draw_points(ax, E40_RED_ANG, E40_RED_DCS, E40_RED_ERR, "red")
draw_points(ax, E40_GRN_ANG, E40_GRN_DCS, E40_GRN_ERR, "green")
style_axes(ax, (0, 5), 1, 0.5)
label(ax, r"E$_0$=4.0eV", 0.43, 0.79)

# 5.0 eV
ax = px_axes(fig, 88, 910, 342, 1073)
draw_curve(ax, E50_ORG_ANG, E50_ORG_DCS, "orange")
draw_curve(ax, E50_MRN_ANG, E50_MRN_DCS, "maroon")
draw_curve(ax, E50_BLK_ANG, E50_BLK_DCS, "black")
draw_curve(ax, E50_BLU_TH_ANG, E50_BLU_TH_DCS, "blue")
draw_curve(ax, E50_RDD_ANG, E50_RDD_DCS, "red")
draw_points(ax, E50_BLU_ANG, E50_BLU_DCS, E50_BLU_ERR, "blue")
draw_points(ax, E50_RED_ANG, E50_RED_DCS, E50_RED_ERR, "red")
draw_points(ax, E50_GRN_ANG, E50_GRN_DCS, E50_GRN_ERR, "green")
style_axes(ax, (0, 8), 1, 0.5)
label(ax, r"E$_0$=5.0eV", 0.55, 0.755)

# 10 eV
ax = px_axes(fig, 393, 912, 647, 1073)
draw_curve(ax, E100_BLK_ANG, E100_BLK_DCS, "black")
draw_curve(ax, E100_GTH_ANG, E100_GTH_DCS, "green")
draw_points(ax, E100_BLU_ANG, E100_BLU_DCS, E100_BLU_ERR, "blue")
draw_points(ax, E100_RED_ANG, E100_RED_DCS, E100_RED_ERR, "red")
draw_points(ax, E100_GRN_ANG, E100_GRN_DCS, E100_GRN_ERR, "green")
style_axes(ax, (0.4, 40), log=True)
label(ax, r"E$_0$=10.0eV", 0.47, 0.77)

# 15 eV
ax = px_axes(fig, 87, 1122, 342, 1295)
draw_curve(ax, E150_ANG, E150_ORG_DCS, "orange")
draw_curve(ax, E150_ANG, E150_MRN_DCS, "maroon")
draw_curve(ax, E150_ANG, E150_BLK_DCS, "black")
draw_curve(ax, E150_ANG, E150_BLU_TH_DCS, "blue")
draw_curve(ax, E150_ANG, E150_RDD_DCS, "red")
draw_curve(ax, E150_ANG, E150_GTH_DCS, "green")
draw_points(ax, E150_BLU_ANG, E150_BLU_DCS, E150_BLU_ERR, "blue")
draw_points(ax, E150_RED_ANG, E150_RED_DCS, E150_RED_ERR, "red")
draw_points(ax, E150_GRN_ANG, E150_GRN_DCS, E150_GRN_ERR, "green")
style_axes(ax, (0.3, 45), log=True)
label(ax, r"E$_0$=15.0eV", 0.49, 0.79)

# 20 eV
ax = px_axes(fig, 391, 1122, 647, 1295)
draw_curve(ax, E200_ANG, E200_ORG_DCS, "orange")
draw_curve(ax, E200_ANG, E200_MRN_DCS, "maroon")
draw_curve(ax, E200_ANG, E200_BLK_DCS, "black")
draw_curve(ax, E200_ANG, E200_BLU_TH_DCS, "blue")
draw_curve(ax, E200_ANG, E200_RDD_DCS, "red")
draw_curve(ax, E200_ANG, E200_GTH_DCS, "green")
draw_points(ax, E200_BLU_ANG, E200_BLU_DCS, E200_BLU_ERR, "blue")
draw_points(ax, E200_RED_ANG, E200_RED_DCS, E200_RED_ERR, "red")
draw_points(ax, E200_GRN_ANG, E200_GRN_DCS, E200_GRN_ERR, "green")
style_axes(ax, (0.12, 75), log=True)
label(ax, r"E$_0$=20.0eV", 0.45, 0.78)

# shared texts
ylab = r"DCS (10$^{-16}$cm$^{2}$/sr)"
fig.text(37 / W, 1 - 300 / H, ylab, rotation=90, fontsize=23, fontweight="bold",
         ha="center", va="center")
fig.text(37 / W, 1 - 992 / H, ylab, rotation=90, fontsize=23, fontweight="bold",
         ha="center", va="center")
fig.text(361 / W, 1 - 618 / H, "Scattering Angle (deg)", fontsize=23.5,
         fontweight="bold", ha="center", va="center")
fig.text(361 / W, 1 - 1335 / H, "Scattering Angle (deg)", fontsize=23.5,
         fontweight="bold", ha="center", va="center")
fig.text(23 / W, 1 - 19 / H, "(a)", fontsize=18, fontweight="bold", ha="left", va="center")
fig.text(23 / W, 1 - 706 / H, "(b)", fontsize=18, fontweight="bold", ha="left", va="center")

fig.savefig("out.png", dpi=100)
